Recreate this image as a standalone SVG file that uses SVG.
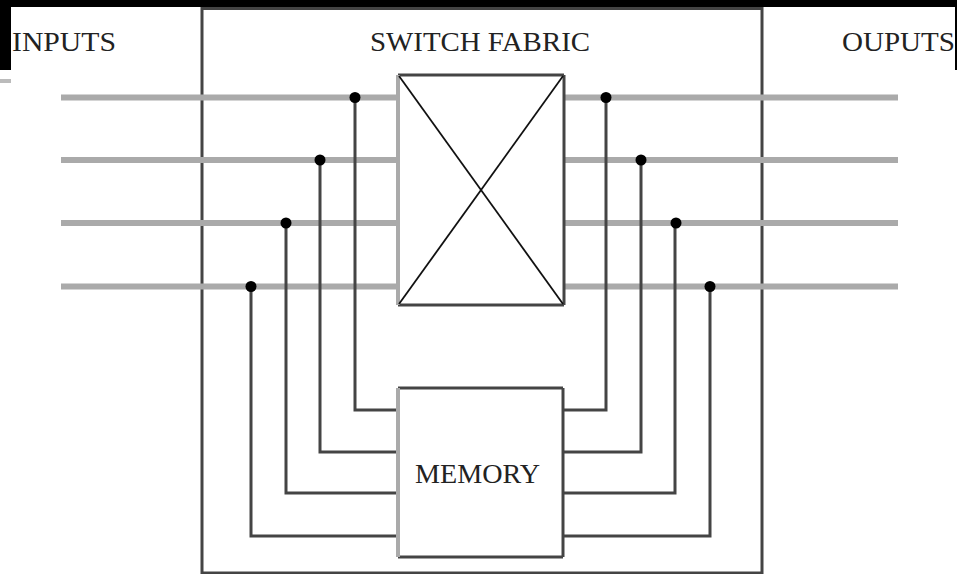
<svg xmlns="http://www.w3.org/2000/svg" width="957" height="574" viewBox="0 0 957 574">
<style>
.lbl{font-family:"Liberation Serif","Times New Roman",serif;font-size:28px;fill:#222;}
.dk{stroke:#444;stroke-width:3;fill:none;}
.gr{stroke:#aaa;stroke-width:6;fill:none;}
.lt{stroke:#aaa;stroke-width:4;fill:none;}
.dg{stroke:#111;stroke-width:1.8;fill:none;}
.dot{fill:#000;}
</style>
<rect x="0" y="0" width="957" height="574" fill="#fff"/>
<rect x="0" y="0" width="957" height="7" fill="#000"/>
<rect x="0" y="0" width="11" height="70" fill="#000"/>
<rect x="0" y="79" width="11" height="4" fill="#bbb"/>
<rect x="955" y="7" width="2" height="63" fill="#000"/>
<g id="fabric-boundary">
<rect class="dk" x="202" y="8.5" width="560" height="564.5"/>
</g>
<text class="lbl" x="12" y="51" textLength="104" lengthAdjust="spacingAndGlyphs">INPUTS</text>
<text class="lbl" x="370" y="51" textLength="220" lengthAdjust="spacingAndGlyphs">SWITCH FABRIC</text>
<text class="lbl" x="842" y="51" textLength="113" lengthAdjust="spacingAndGlyphs">OUPUTS</text>
<g id="connectors">
<line class="gr" x1="61" y1="97.5" x2="398" y2="97.5"/>
<line class="gr" x1="61" y1="160" x2="398" y2="160"/>
<line class="gr" x1="61" y1="223" x2="398" y2="223"/>
<line class="gr" x1="61" y1="286.5" x2="398" y2="286.5"/>
<line class="gr" x1="564" y1="97.5" x2="898" y2="97.5"/>
<line class="gr" x1="564" y1="160" x2="898" y2="160"/>
<line class="gr" x1="564" y1="223" x2="898" y2="223"/>
<line class="gr" x1="564" y1="286.5" x2="898" y2="286.5"/>
<polyline class="dk" points="355,97.5 355,410 398,410"/>
<polyline class="dk" points="320,160 320,452 398,452"/>
<polyline class="dk" points="286,223 286,493 398,493"/>
<polyline class="dk" points="251,286.5 251,536 398,536"/>
<polyline class="dk" points="606,97.5 606,410 563,410"/>
<polyline class="dk" points="641,160 641,452 563,452"/>
<polyline class="dk" points="675,223 675,493 563,493"/>
<polyline class="dk" points="710,286.5 710,536 563,536"/>
<circle class="dot" cx="355" cy="97.5" r="5.5"/>
<circle class="dot" cx="320" cy="160" r="5.5"/>
<circle class="dot" cx="286" cy="223" r="5.5"/>
<circle class="dot" cx="251" cy="286.5" r="5.5"/>
<circle class="dot" cx="606" cy="97.5" r="5.5"/>
<circle class="dot" cx="641" cy="160" r="5.5"/>
<circle class="dot" cx="676" cy="223" r="5.5"/>
<circle class="dot" cx="710" cy="286.5" r="5.5"/>
</g>
<g id="switch">
<line class="dk" x1="398" y1="75" x2="564" y2="75"/>
<line class="dk" x1="398" y1="305" x2="564" y2="305"/>
<line class="dk" x1="564" y1="75" x2="564" y2="305"/>
<line class="lt" x1="398" y1="75" x2="398" y2="305"/>
<line class="dg" x1="399" y1="76" x2="563" y2="304"/>
<line class="dg" x1="563" y1="76" x2="399" y2="304"/>
</g>
<g id="memory">
<line class="dk" x1="398" y1="388" x2="563" y2="388"/>
<line class="dk" x1="398" y1="557" x2="563" y2="557"/>
<line class="dk" x1="563" y1="388" x2="563" y2="557"/>
<line class="lt" x1="398" y1="388" x2="398" y2="557"/>
<text class="lbl" x="415" y="483" textLength="125" lengthAdjust="spacingAndGlyphs">MEMORY</text>
</g>
</svg>
